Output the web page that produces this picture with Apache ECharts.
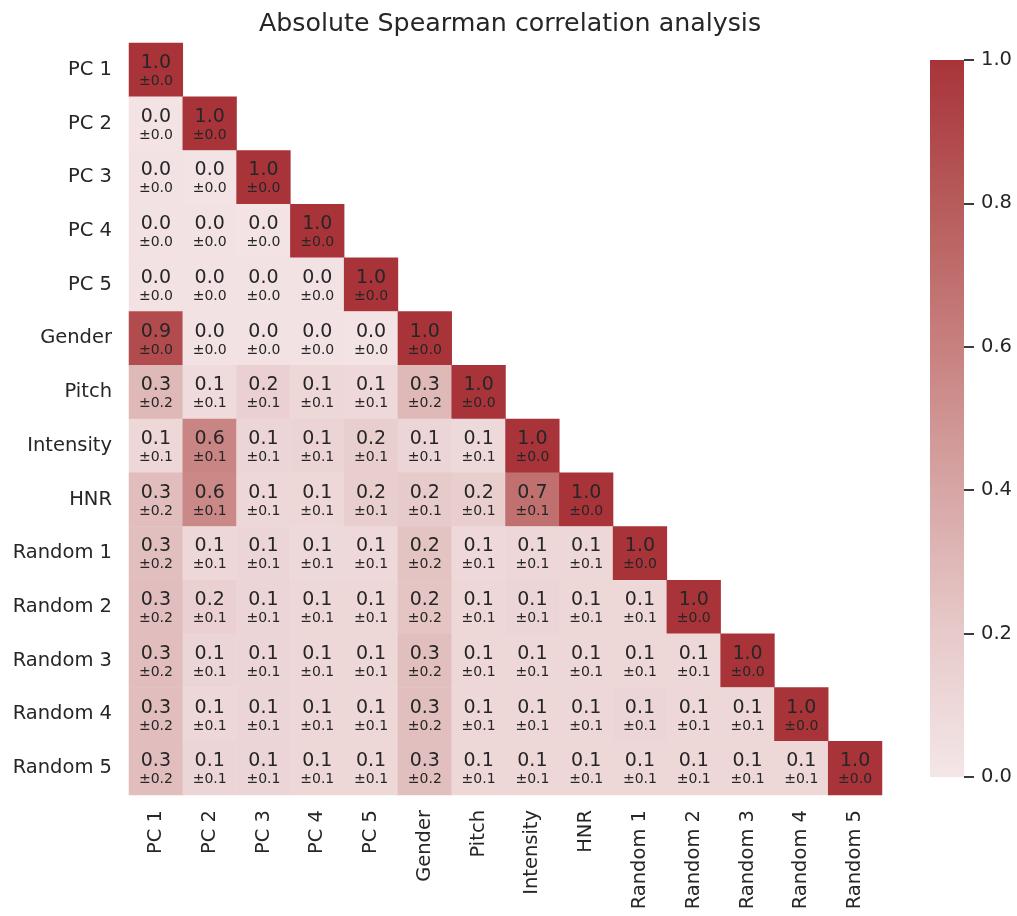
<!DOCTYPE html>
<html><head><meta charset="utf-8">
<script src="https://cdn.jsdelivr.net/npm/echarts@6/dist/echarts.min.js"></script>
<style>html,body{margin:0;padding:0;background:#fff}#c{width:1017px;height:916px}</style>
</head><body><div id="c"></div>
<script>
const labels = ['PC 1','PC 2','PC 3','PC 4','PC 5','Gender','Pitch','Intensity','HNR','Random 1','Random 2','Random 3','Random 4','Random 5'];
// lower-triangular mean |rho| (row i has i+1 entries)
const means = [
  [1.0],
  [0.02,1.0],
  [0.03,0.02,1.0],
  [0.03,0.03,0.02,1.0],
  [0.03,0.03,0.03,0.03,1.0],
  [0.88,0.03,0.03,0.03,0.02,1.0],
  [0.30,0.08,0.16,0.11,0.10,0.30,1.0],
  [0.11,0.58,0.12,0.13,0.17,0.12,0.09,1.0],
  [0.27,0.56,0.11,0.11,0.17,0.20,0.17,0.69,1.0],
  [0.26,0.11,0.12,0.09,0.10,0.24,0.10,0.11,0.11,1.0],
  [0.27,0.16,0.12,0.11,0.11,0.23,0.11,0.12,0.11,0.11,1.0],
  [0.27,0.12,0.12,0.11,0.11,0.26,0.11,0.11,0.11,0.11,0.11,1.0],
  [0.27,0.11,0.12,0.11,0.11,0.26,0.11,0.11,0.11,0.12,0.11,0.11,1.0],
  [0.27,0.12,0.12,0.11,0.11,0.26,0.11,0.11,0.11,0.11,0.11,0.11,0.11,1.0]
];
const stds = [
  [0.0],
  [0.0,0.0],
  [0.0,0.0,0.0],
  [0.0,0.0,0.0,0.0],
  [0.0,0.0,0.0,0.0,0.0],
  [0.0,0.0,0.0,0.0,0.0,0.0],
  [0.2,0.1,0.1,0.1,0.1,0.2,0.0],
  [0.1,0.1,0.1,0.1,0.1,0.1,0.1,0.0],
  [0.2,0.1,0.1,0.1,0.1,0.1,0.1,0.1,0.0],
  [0.2,0.1,0.1,0.1,0.1,0.2,0.1,0.1,0.1,0.0],
  [0.2,0.1,0.1,0.1,0.1,0.2,0.1,0.1,0.1,0.1,0.0],
  [0.2,0.1,0.1,0.1,0.1,0.2,0.1,0.1,0.1,0.1,0.1,0.0],
  [0.2,0.1,0.1,0.1,0.1,0.2,0.1,0.1,0.1,0.1,0.1,0.1,0.0],
  [0.2,0.1,0.1,0.1,0.1,0.2,0.1,0.1,0.1,0.1,0.1,0.1,0.1,0.0]
];
const cbTicks = [0, 0.2, 0.4, 0.6, 0.8, 1.0];
const cmap = ['#f4e6e7','#e7caca','#d7a6a5','#c7817f','#b75b5b','#a8343a'];

const data = [];
means.forEach((row,i)=>row.forEach((v,j)=>data.push({value:[j,i,v], std:stds[i][j]})));

const FONT = 'DejaVu Sans';
const chart = echarts.init(document.getElementById('c'));
chart.setOption({
  backgroundColor:'#fff',
  animation:false,
  title:{text:'Absolute Spearman correlation analysis', left:505, top:7, textAlign:'center',
    textStyle:{fontFamily:FONT, fontSize:25.3, fontWeight:'normal', color:'#262626'}},
  grid:[
    {left:129, top:43, width:753, height:752},
    {left:930, top:60, width:34, height:717}
  ],
  xAxis:[
    {type:'category', gridIndex:0, data:labels, position:'bottom',
      axisLine:{show:false}, axisTick:{show:false}, splitLine:{show:false},
      axisLabel:{rotate:90, fontFamily:FONT, fontSize:19.5, color:'#262626', margin:15}},
    {type:'category', gridIndex:1, data:['cb'], show:false}
  ],
  yAxis:[
    {type:'category', gridIndex:0, data:labels, inverse:true,
      axisLine:{show:false}, axisTick:{show:false}, splitLine:{show:false},
      axisLabel:{fontFamily:FONT, fontSize:19.5, color:'#262626', margin:17}},
    {type:'value', gridIndex:1, min:0, max:1, interval:0.2, position:'right',
      axisLine:{show:false}, splitLine:{show:false},
      axisTick:{show:true, length:10, lineStyle:{color:'#262626', width:1.8}},
      axisLabel:{fontFamily:FONT, fontSize:19.5, color:'#262626', margin:17,
        formatter:v=>cbTicks.reduce((a,t)=>Math.abs(t-v)<1e-9?t.toFixed(1):a,'')}}
  ],
  visualMap:{show:false, type:'continuous', min:0, max:1, seriesIndex:0, dimension:2,
    inRange:{color:cmap}},
  series:[
    {type:'heatmap', xAxisIndex:0, yAxisIndex:0, data:data,
      itemStyle:{borderWidth:0},
      label:{show:true, color:'#262626', offset:[0,1.5],
        formatter:p=>'{a|'+p.value[2].toFixed(1)+'}\n{b|±'+p.data.std.toFixed(1)+'}',
        rich:{a:{fontFamily:FONT, fontSize:19, color:'#262626', lineHeight:20},
              b:{fontFamily:FONT, fontSize:14, color:'#262626', lineHeight:16.5}}},
      emphasis:{disabled:true}},
    {type:'bar', xAxisIndex:1, yAxisIndex:1, data:[1], barWidth:'100%', silent:true,
      itemStyle:{color:new echarts.graphic.LinearGradient(0,1,0,0,
        cmap.map((c,k)=>({offset:k/(cmap.length-1), color:c})))}}
  ]
});
</script></body></html>
